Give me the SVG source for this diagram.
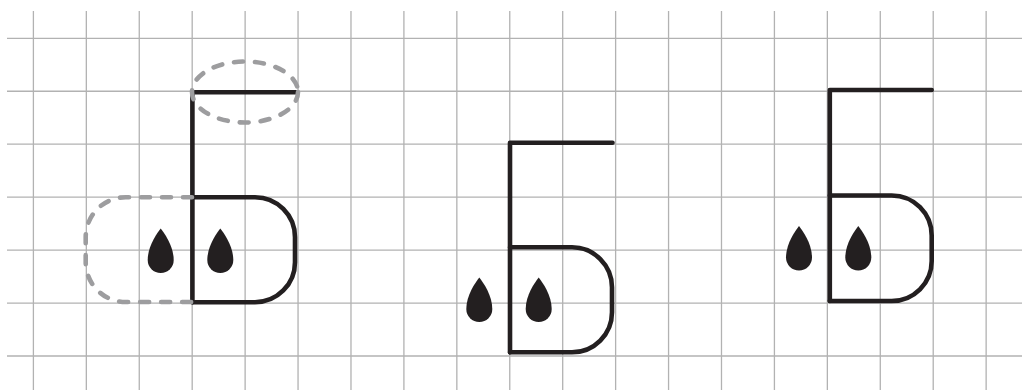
<svg xmlns="http://www.w3.org/2000/svg" width="1022" height="390" viewBox="0 0 1022 390">
<style>
.grid{stroke:#b2b2b2;stroke-width:1.3;fill:none}
.ink{stroke:#231f20;stroke-width:4.6;fill:none;stroke-linecap:round;stroke-linejoin:round}
.guide{stroke:#9d9d9f;stroke-width:4.6;fill:none;stroke-linecap:round;stroke-dasharray:9 12}
.drop{fill:#231f20}
</style>
<defs>
<path id="drop" d="M0,0 C4,5 13,18 13,31.5 A13,13 0 0 1 -13,31.5 C-13,18 -4,5 0,0 Z"/>
</defs>
<g id="grid" class="grid">
<path d="M7,38.3H1022M7,91.25H1022M7,144.2H1022M7,197.15H1022M7,250.1H1022M7,303.05H1022M7,356H1022"/>
<path d="M33.4,11V390M86.33,11V390M139.26,11V390M192.19,11V390M245.12,11V390M298.05,11V390M350.98,11V390M403.91,11V390M456.84,11V390M509.77,11V390M562.7,11V390M615.63,11V390M668.56,11V390M721.49,11V390M774.42,11V390M827.35,11V390M880.28,11V390M933.21,11V390M986.14,11V390"/>
</g>
<g id="figure1">
<path class="ink" d="M296,92.3 H192.4 V302.2"/>
<path class="ink" d="M192.4,197.2 H255 A40,40 0 0 1 295,237.2 V262.2 A40,40 0 0 1 255,302.2 H192.4"/>
<use href="#drop" class="drop" x="160.7" y="228.5"/>
<use href="#drop" class="drop" x="220.3" y="228.5"/>
<ellipse class="guide" cx="245" cy="92" rx="53" ry="30.5"/>
<path class="guide" d="M192,197.2 H125.7 A40,40 0 0 0 85.7,237.2 V262 A40,40 0 0 0 125.7,302 H192"/>
</g>
<g id="figure2">
<path class="ink" d="M612.5,142.7 H510 V352.3"/>
<path class="ink" d="M510,247.3 H572 A40,40 0 0 1 612,287.3 V312.3 A40,40 0 0 1 572,352.3 H510"/>
<use href="#drop" class="drop" x="479.3" y="277.5"/>
<use href="#drop" class="drop" x="538.7" y="277.5"/>
</g>
<g id="figure3">
<path class="ink" d="M931.7,90 H829.8 V301"/>
<path class="ink" d="M829.8,195.5 H891.7 A40,40 0 0 1 931.7,235.5 V261 A40,40 0 0 1 891.7,301 H829.8"/>
<use href="#drop" class="drop" x="799" y="226"/>
<use href="#drop" class="drop" x="858.3" y="226"/>
</g>
</svg>
